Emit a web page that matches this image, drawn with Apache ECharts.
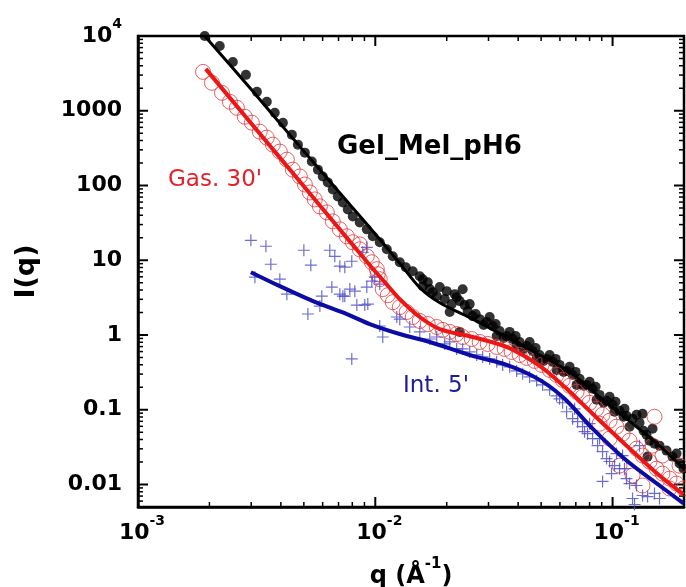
<!DOCTYPE html>
<!-- Gel_Mel_pH6 SAXS curves: I(q) vs q, log-log -->
<html><head><meta charset="utf-8">
<script src="https://cdn.jsdelivr.net/npm/echarts@6/dist/echarts.min.js"></script>
<style>html,body{margin:0;padding:0;background:#fff}#c{width:686px;height:587px}</style>
</head><body><div id="c"></div>
<script>
// ---- tick values / labels ----
const xMajorTicks = [0.001, 0.01, 0.1];
const xMajorLabels = ['{b|10}{sup|-3}', '{b|10}{sup|-2}', '{b|10}{sup|-1}'];
const xMinorTicks = [0.002,0.003,0.004,0.005,0.006,0.007,0.008,0.009,0.02,0.03,0.04,0.05,0.06,0.07,0.08,0.09];
const yMajorTicks = [0.01, 0.1, 1, 10, 100, 1000, 10000];
const yMajorLabels = ['0.01', '0.1', '1', '10', '100', '1000', '{b|10}{sup|4}'];
const yMinorTicks = [0.006,0.007,0.008,0.009,0.02,0.03,0.04,0.05,0.06,0.07,0.08,0.09,0.2,0.3,0.4,0.5,0.6,0.7,0.8,0.9,2,3,4,5,6,7,8,9,20,30,40,50,60,70,80,90,200,300,400,500,600,700,800,900,2000,3000,4000,5000,6000,7000,8000,9000];
const xRange = [0.001, 0.2];
const yRange = [0.005, 10000];

// ---- data: [q, I(q)] ----
const gelMelDots = [
[0.00191,10000],[0.00221,7360],[0.00251,4500],[0.00285,3020],[0.00317,1790],[0.00349,1320],[0.00377,940],[0.00408,692],[0.00445,479],[0.00472,352],[0.00505,275],[0.0054,209],[0.00573,163],[0.00601,132],[0.00631,110],[0.00662,88.4],[0.00695,71.3],[0.0073,59.3],[0.00766,47.9],[0.00804,38.6],[0.0086,32.1],[0.00921,25.9],[0.00976,20.9],[0.01044,17.4],[0.01118,14.0],[0.01185,11.3],[0.01268,9.4],[0.01344,8.07],[0.01438,7.13],[0.0154,6.12],[0.01585,5.58],[0.01585,4.5],[0.01664,5.09],[0.01697,4.11],[0.01747,3.74],[0.01815,3.31],[0.01869,4.37],[0.01962,3.02],[0.02,3.86],[0.02059,2.03],[0.02099,2.59],[0.02162,3.52],[0.02203,3.21],[0.02268,1.1],[0.02268,2.84],[0.02335,4.1],[0.0238,2.51],[0.02452,2.09],[0.025,2.59],[0.02573,1.79],[0.02754,1.63],[0.02947,1.49],[0.03125,1.32],[0.03343,1.13],[0.03578,0.97],[0.03793,0.884],[0.04058,0.807],[0.04344,0.713],[0.04604,0.612],[0.04927,0.541],[0.05274,0.479],[0.0559,0.437],[0.0598,0.398],[0.06402,0.331],[0.06785,0.293],[0.07264,0.259],[0.07771,0.215],[0.08236,0.191],[0.08816,0.158],[0.09434,0.132],[0.1,0.1166],[0.107,0.097],[0.1145,0.0832],[0.1214,0.0759],[0.1299,0.0671],[0.1338,0.0884],[0.139,0.0464],[0.1432,0.0386],[0.1502,0.0352],[0.1404,0.0236],[0.1577,0.0331],[0.1688,0.0284],[0.1789,0.0236],[0.1915,0.0191],[0.199,0.0163],[0.186,0.0259],[0.1474,0.0558],
[0.03034,1.74],[0.03683,1.1],[0.04471,0.807],[0.05429,0.541],[0.06591,0.375],[0.08002,0.236],[0.09714,0.149],[0.1123,0.103],[0.1262,0.0858],[0.03248,0.97],[0.03942,0.735],[0.04786,0.479],[0.05808,0.341],[0.07054,0.215],[0.08562,0.136],[0.1019,0.094],[0.1179,0.0593],
[0.02649,1.905],[0.03216,1.4],[0.03904,0.97],[0.0474,0.671],[0.05754,0.479],[0.06985,0.321],[0.0848,0.2026],[0.1029,0.128],
[0.02862,1.36],[0.03475,0.912],[0.04219,0.651],[0.05122,0.45],[0.06216,0.321],[0.07546,0.209],[0.09165,0.124],[0.1112,0.0806],[0.1351,0.0525]
];
const gas30Circles = [
[0.00188,3311],[0.00205,2362],[0.00226,1738],[0.00244,1318],[0.00261,1096],[0.00282,832],[0.00302,692],[0.00326,525],[0.00349,437],[0.0037,352],[0.00396,284],[0.00424,222],[0.00449,163],[0.00481,132],[0.00505,103],[0.0053,80.7],[0.00556,65.1],[0.00584,52.5],[0.00625,43.7],[0.00662,33.1],[0.00709,25.9],[0.00759,20.9],[0.00804,17.4],[0.0086,14.0],[0.00921,11.3],[0.00967,9.4],[0.01015,7.59],[0.01044,5.58],[0.01075,4.11],[0.01129,3.41],[0.01185,2.75],[0.01268,2.36],[0.01357,2.03],[0.01438,1.74],[0.0154,1.54],[0.01664,1.4],[0.01815,1.28],[0.01924,1.17],[0.02059,1.1],[0.02203,1.03],[0.02335,0.94],[0.02549,0.884],[0.02754,0.807],[0.02977,0.759],[0.03248,0.692],[0.0351,0.651],[0.03756,0.593],[0.04058,0.541],[0.04344,0.494],[0.04694,0.45],[0.05025,0.398],[0.05429,0.341],[0.05808,0.293],[0.06159,0.251],[0.06591,0.209],[0.07054,0.174],[0.07473,0.149],[0.08002,0.124],[0.08562,0.103],[0.09076,0.0858],[0.09714,0.0713],[0.1039,0.0593],[0.1102,0.0479],[0.1179,0.0386],[0.1262,0.0302],[0.1338,0.0244],[0.1432,0.0203],[0.1532,0.0163],[0.1623,0.014],[0.1738,0.012],[0.186,0.0103],[0.199,0.00885],
[0.0086,16.3],[0.01024,6.51],[0.1502,0.0806],[0.1338,0.0097],[0.1738,0.00885],[0.1915,0.0179],[0.1214,0.0132],[0.107,0.0179],[0.1474,0.0331],[0.1623,0.0244],[0.09714,0.0411],[0.08816,0.0651]
];
const int5Plus = [
[0.00299,18.5],[0.00346,15.4],[0.00363,8.84],[0.00311,5.93],[0.005,13.6],[0.00535,8.58],[0.00396,5.58],[0.00424,3.52],[0.0052,1.91],[0.00584,2.44],[0.00595,3.31],[0.00643,13.6],[0.00675,11.3],[0.00709,8.32],[0.00744,8.07],[0.00656,4.37],[0.00709,3.52],[0.00744,3.31],[0.00796,9.7],[0.0082,3.86],[0.00836,2.51],[0.00903,2.51],[0.00886,12.8],[0.00921,14.9],[0.00967,5.25],[0.00995,5.93],[0.01044,4.79],[0.00921,4.37],[0.00781,4.11],[0.0073,3.31],[0.0093,2.59],[0.00796,0.479],[0.01075,0.94],[0.01044,1.32],[0.01232,1.74],[0.01268,1.63],[0.01397,1.28],[0.0154,1.1],[0.01697,0.884],[0.01815,0.94],[0.01962,0.759],[0.02059,0.807],[0.02203,0.651],[0.02335,0.651],[0.025,0.593],[0.02676,0.541],[0.02835,0.509],[0.03034,0.479],[0.03248,0.437],[0.03442,0.398],[0.03683,0.375],[0.03942,0.331],[0.04179,0.302],[0.04471,0.275],[0.04786,0.244],[0.05073,0.215],[0.05429,0.185],[0.05808,0.1537],[0.06159,0.124],[0.06402,0.094],[0.06785,0.0759],[0.07123,0.0692],[0.07473,0.0593],[0.07847,0.0479],[0.08236,0.0411],[0.08646,0.0331],[0.09076,0.0275],[0.09434,0.0222],[0.09714,0.0203],[0.1019,0.0179],[0.107,0.0163],[0.1102,0.0244],[0.1145,0.012],[0.1179,0.0103],[0.1262,0.0097],[0.1299,0.0331],[0.1338,0.00713],[0.09076,0.011],[0.1214,0.0065],[0.1404,0.0069],[0.1238,0.0054],[0.1502,0.0076],[0.1577,0.0065],[0.099,0.014],[0.08002,0.0651],[0.08816,0.0411],[0.06918,0.103],[0.0598,0.14],[0.07623,0.0509],[0.1123,0.0163],[0.1039,0.0259]
];
const gelMelFit = [[0.00191,10000],[0.00296,2026],[0.00481,331],[0.00781,55.8],[0.01044,19.1],[0.01268,9.12],[0.0154,4.3],[0.01869,2.7],[0.02573,1.634],[0.03578,0.94],[0.04927,0.541],[0.06591,0.321],[0.08816,0.149],[0.1145,0.0759],[0.1577,0.0331],[0.199,0.01634]];
const gas30Fit = [[0.00193,3631],[0.00296,713],[0.00481,113],[0.00781,17.9],[0.00957,8.32],[0.01096,5.09],[0.01268,3.02],[0.0154,1.74],[0.01869,1.2],[0.02573,0.94],[0.03578,0.692],[0.04927,0.386],[0.0628,0.2026],[0.08236,0.0884],[0.1145,0.0331],[0.1577,0.01318],[0.199,0.00736]];
const int5Fit = [[0.00299,6.92],[0.00396,4.5],[0.00546,2.84],[0.00759,1.905],[0.00948,1.4],[0.01268,1.03],[0.01697,0.807],[0.02573,0.525],[0.03578,0.398],[0.04927,0.251],[0.0628,0.14],[0.08236,0.0558],[0.1145,0.0209],[0.1577,0.0097],[0.199,0.00558]];

// ---- chart ----
const FONT = 'DejaVu Sans';
const lg = Math.log10;
function isIn(ticks, v) {
  for (let i = 0; i < ticks.length; i++) if (Math.abs(lg(v) - lg(ticks[i])) < 1e-6) return i;
  return -1;
}
function labeler(ticks, labels) {
  return function (v) { const i = isIn(ticks, v); return i >= 0 ? labels[i] : ''; };
}
const richTick = {
  b: {fontFamily: FONT, fontWeight: 'bold', fontSize: 22, lineHeight: 38, color: '#000'},
  sup: {fontFamily: FONT, fontWeight: 'bold', fontSize: 14, lineHeight: 14, padding: [0, 0, 24, 0], color: '#000'}
};
const lineSt = {color: '#000', width: 2.5};

// mirror/tick axes: each inside tick mark is drawn as a small filled label box at the tick value
function markAxis(isX, pos) {
  const major = isX ? xMajorTicks : yMajorTicks;
  const minor = isX ? xMinorTicks : yMinorTicks;
  const rng = isX ? xRange : yRange;
  return {
    type: 'log', logBase: 10, position: pos, min: rng[0], max: rng[1],
    axisLine: {show: false}, axisTick: {show: false}, splitLine: {show: false}, minorTick: {show: false},
    axisLabel: {
      show: true, inside: true, margin: 0, fontSize: 1, lineHeight: 1,
      customValues: major.concat(minor),
      formatter: function (v) { return isIn(major, v) >= 0 ? '{M| }' : '{m| }'; },
      rich: isX
        ? {M: {width: 2, height: 10, lineHeight: 10, fontSize: 1, backgroundColor: '#000'},
           m: {width: 1.5, height: 5, lineHeight: 5, fontSize: 1, backgroundColor: '#000'}}
        : {M: {width: 10, height: 2, lineHeight: 2, fontSize: 1, backgroundColor: '#000'},
           m: {width: 5, height: 1.5, lineHeight: 1.5, fontSize: 1, backgroundColor: '#000'}}
    }
  };
}

const chart = echarts.init(document.getElementById('c'), null, {renderer: 'canvas'});
chart.setOption({
  animation: false,
  backgroundColor: '#fff',
  grid: {left: 138, right: 2, top: 36, bottom: 80, containLabel: false, outerBoundsMode: 'none',
         show: true, borderColor: '#000', borderWidth: 2.5, backgroundColor: 'rgba(0,0,0,0)'},
  xAxis: [
    {type: 'log', logBase: 10, position: 'bottom', min: xRange[0], max: xRange[1],
     axisLine: {show: true, onZero: false, lineStyle: lineSt},
     axisTick: {show: false}, splitLine: {show: false}, minorTick: {show: false},
     axisLabel: {show: true, customValues: xMajorTicks, formatter: labeler(xMajorTicks, xMajorLabels),
       margin: 7, padding: [0, 0, 0, 8], color: '#000', fontFamily: FONT, fontWeight: 'bold', fontSize: 22, rich: richTick},
     name: '{b|q (Å}{sup|-1}{b|)}', nameLocation: 'middle', nameGap: 50,
     nameTextStyle: {rich: {
       b: {fontFamily: FONT, fontWeight: 'bold', fontSize: 24, lineHeight: 40, color: '#000'},
       sup: {fontFamily: FONT, fontWeight: 'bold', fontSize: 15, lineHeight: 15, padding: [0, 0, 25, 0], color: '#000'}
     }}},
    markAxis(true, 'bottom'),
    markAxis(true, 'top')
  ],
  yAxis: [
    {type: 'log', logBase: 10, position: 'left', min: yRange[0], max: yRange[1],
     axisLine: {show: true, onZero: false, lineStyle: lineSt},
     axisTick: {show: false}, splitLine: {show: false}, minorTick: {show: false},
     axisLabel: {show: true, customValues: yMajorTicks, formatter: labeler(yMajorTicks, yMajorLabels),
       margin: 16, color: '#000', fontFamily: FONT, fontWeight: 'bold', fontSize: 22, rich: richTick},
     name: 'I(q)', nameLocation: 'middle', nameGap: 98, nameRotate: 90,
     nameTextStyle: {fontFamily: FONT, fontWeight: 'bold', fontSize: 27, color: '#000'}},
    markAxis(false, 'left'),
    markAxis(false, 'right')
  ],
  series: [
    {type: 'scatter', name: 'Gel_Mel_pH6', data: gelMelDots, symbol: 'circle', symbolSize: 10,
     itemStyle: {color: '#000'}, z: 2},
    {type: 'scatter', name: "Gas. 30'", data: gas30Circles, symbol: 'circle', symbolSize: 15,
     itemStyle: {color: 'rgba(0,0,0,0)', borderColor: '#e0393e', borderWidth: 1}, z: 3},
    {type: 'scatter', name: "Int. 5'", data: int5Plus,
     symbol: 'path://M5.4,0H6.6V5.4H12V6.6H6.6V12H5.4V6.6H0V5.4H5.4Z', symbolSize: 12,
     itemStyle: {color: '#4a4ac4'}, z: 4},
    {type: 'line', data: gelMelFit, showSymbol: false, smooth: 0.3, lineStyle: {color: '#000', width: 3}, z: 5},
    {type: 'line', data: gas30Fit, showSymbol: false, smooth: 0.3, lineStyle: {color: '#ee1515', width: 4}, z: 6},
    {type: 'line', data: int5Fit, showSymbol: false, smooth: 0.3, lineStyle: {color: '#0b0ba6', width: 4}, z: 7}
  ],
  graphic: [
    {type: 'text', left: 337, top: 134, style: {text: 'Gel_Mel_pH6', fontFamily: FONT, fontWeight: 'bold', fontSize: 26, fill: '#000'}},
    {type: 'text', left: 168, top: 169, style: {text: "Gas. 30'", fontFamily: FONT, fontSize: 23, fill: '#e4202a'}},
    {type: 'text', left: 403, top: 375, style: {text: "Int. 5'", fontFamily: FONT, fontSize: 23, fill: '#1c1c9e'}}
  ]
});
</script>
</body></html>
